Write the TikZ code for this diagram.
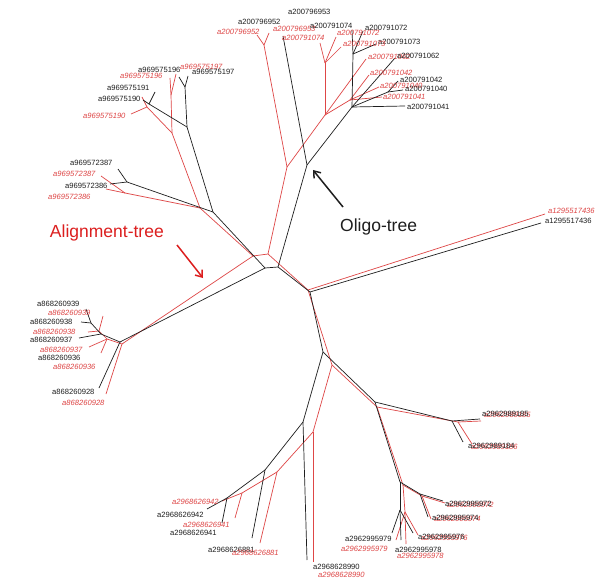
\documentclass[tikz,border=0pt]{standalone}
\usepackage{fontspec}
\setmainfont{Liberation Sans}
\usetikzlibrary{arrows.meta}
\definecolor{treered}{RGB}{222,70,70}
\definecolor{arrred}{RGB}{220,30,30}
\definecolor{treeblk}{RGB}{30,30,30}
\tikzset{
  bl/.style={draw=treeblk,line width=0.7pt},
  rl/.style={draw=treered,line width=0.7pt},
  lab/.style={inner sep=0pt,anchor=west,font=\fontsize{7.6}{8}\selectfont},
  bt/.style={lab,text=treeblk},
  rt/.style={lab,text=treered,font=\fontsize{7.6}{8}\selectfont\itshape},
  bigtext/.style={inner sep=0pt,font=\fontsize{17.5}{19}\selectfont}
}
\begin{document}
\begin{tikzpicture}[x=1pt,y=-1pt]
\useasboundingbox[fill=white] (0,0) rectangle (599,580);
% ---------- black tree coordinates ----------
\coordinate (bc1) at (265,268); \coordinate (bc2) at (278,267);
\coordinate (bL) at (120,342); \coordinate (bL1) at (101,334); \coordinate (bL2) at (91,323);
\coordinate (bLa) at (86,309); \coordinate (bLb) at (81,322); \coordinate (bLc) at (79,338); \coordinate (bLd) at (99,388);
\coordinate (bUL) at (213,212); \coordinate (bA) at (127,182); \coordinate (bAa) at (118,169); \coordinate (bAb) at (110,184);
\coordinate (bB) at (187,127); \coordinate (bB1) at (185,87); \coordinate (bB1a) at (179,77); \coordinate (bB1b) at (188,76);
\coordinate (bB2) at (149,104); \coordinate (bB2a) at (155,92); \coordinate (bB2b) at (143,100);
\coordinate (bT) at (307,165); \coordinate (bTa) at (283,36); \coordinate (bT2) at (352,107); \coordinate (bT3) at (353,54);
\coordinate (bT3a) at (352,30); \coordinate (bT3b) at (363,31); \coordinate (bT3c) at (376,44);
\coordinate (bT2a) at (395,58); \coordinate (bT5) at (388,92); \coordinate (bT5a) at (398,81); \coordinate (bT5b) at (403,90); \coordinate (bT2b) at (405,106);
\coordinate (bR) at (310,292); \coordinate (bRa) at (541,223);
\coordinate (bD) at (323,352); \coordinate (bD1) at (303,422); \coordinate (bD1a) at (307,560);
\coordinate (bD2) at (265,470); \coordinate (bD2a) at (252,538); \coordinate (bD3) at (227,498); \coordinate (bD3a) at (207,509); \coordinate (bD3b) at (222,523);
\coordinate (bE) at (375,402); \coordinate (bE1) at (452,421); \coordinate (bE1a) at (480,419); \coordinate (bE1b) at (463,442);
\coordinate (bE2) at (400,482); \coordinate (bE3) at (420,494); \coordinate (bE3a) at (443,501); \coordinate (bE3b) at (428,517);
\coordinate (bE4) at (400,510); \coordinate (bE4a) at (392,533); \coordinate (bE4b) at (401,540); \coordinate (bE4c) at (413,533);
% ---------- red tree coordinates ----------
\coordinate (rc1) at (253,256); \coordinate (rc2) at (268,254);
\coordinate (rL) at (122,344); \coordinate (rL1) at (107,339); \coordinate (rL2) at (99,331);
\coordinate (rLa) at (103,316); \coordinate (rLb) at (88,332); \coordinate (rLc) at (89,347); \coordinate (rLd) at (101,353); \coordinate (rLe) at (106,394);
\coordinate (rUL) at (200,208); \coordinate (rA) at (125,193); \coordinate (rAa) at (101,176); \coordinate (rAb) at (106,189);
\coordinate (rB) at (172,133); \coordinate (rB1) at (171,95); \coordinate (rB1a) at (170,78); \coordinate (rB1b) at (176,74);
\coordinate (rB2) at (147,107); \coordinate (rB2a) at (131,114); \coordinate (rB2b) at (142,97);
\coordinate (rT) at (287,167); \coordinate (rT1) at (264,45); \coordinate (rT1a) at (257,35); \coordinate (rT1b) at (269,33);
\coordinate (rT2) at (325,115); \coordinate (rT3) at (325,63); \coordinate (rT3a) at (320,43); \coordinate (rT3b) at (336,37); \coordinate (rT3c) at (341,47);
\coordinate (rT2a) at (366,59); \coordinate (rT4) at (350,100); \coordinate (rT4a) at (369,75); \coordinate (rT4b) at (379,87); \coordinate (rT4c) at (382,97);
\coordinate (rR) at (308,290); \coordinate (rRa) at (545,214);
\coordinate (rD) at (332,365); \coordinate (rD1) at (313,432); \coordinate (rD1a) at (313,562);
\coordinate (rD2) at (277,472); \coordinate (rD2a) at (260,543); \coordinate (rD3) at (242,493); \coordinate (rD3a) at (222,501); \coordinate (rD3b) at (235,518);
\coordinate (rE) at (377,407); \coordinate (rE1) at (458,422); \coordinate (rE1a) at (481,421); \coordinate (rE1b) at (472,444);
\coordinate (rE2) at (403,485); \coordinate (rE3) at (422,496); \coordinate (rE3a) at (445,503); \coordinate (rE3b) at (431,519);
\coordinate (rE4) at (405,512); \coordinate (rE4a) at (396,540); \coordinate (rE4b) at (406,544); \coordinate (rE4c) at (418,535);
% ---------- red edges ----------
\foreach \a/\b in {rc1/rc2,rc1/rL,rc1/rUL,rc2/rT,rc2/rR,
  rL/rL1,rL1/rL2,rL2/rLa,rL2/rLb,rL1/rLc,rL1/rLd,rL/rLe,
  rUL/rA,rA/rAa,rA/rAb,rUL/rB,rB/rB1,rB1/rB1a,rB1/rB1b,rB/rB2,rB2/rB2a,rB2/rB2b,
  rT/rT1,rT1/rT1a,rT1/rT1b,rT/rT2,rT2/rT3,rT3/rT3a,rT3/rT3b,rT3/rT3c,rT2/rT2a,rT2/rT4,rT4/rT4a,rT4/rT4b,rT4/rT4c,
  rR/rRa,rR/rD,rD/rD1,rD1/rD1a,rD1/rD2,rD2/rD2a,rD2/rD3,rD3/rD3a,rD3/rD3b,
  rD/rE,rE/rE1,rE1/rE1a,rE1/rE1b,rE/rE2,rE2/rE3,rE3/rE3a,rE3/rE3b,rE2/rE4,rE4/rE4a,rE4/rE4b,rE4/rE4c}
  \draw[rl] (\a) -- (\b);
% ---------- black edges ----------
\foreach \a/\b in {bc1/bc2,bc1/bL,bc1/bUL,bc2/bT,bc2/bR,
  bL/bL1,bL1/bL2,bL2/bLa,bL2/bLb,bL1/bLc,bL/bLd,
  bUL/bA,bA/bAa,bA/bAb,bUL/bB,bB/bB1,bB1/bB1a,bB1/bB1b,bB/bB2,bB2/bB2a,bB2/bB2b,
  bT/bTa,bT/bT2,bT2/bT3,bT3/bT3a,bT3/bT3b,bT3/bT3c,bT2/bT2a,bT2/bT5,bT5/bT5a,bT5/bT5b,bT2/bT2b,
  bR/bRa,bR/bD,bD/bD1,bD1/bD1a,bD1/bD2,bD2/bD2a,bD2/bD3,bD3/bD3a,bD3/bD3b,
  bD/bE,bE/bE1,bE1/bE1a,bE1/bE1b,bE/bE2,bE2/bE3,bE3/bE3a,bE3/bE3b,bE2/bE4,bE4/bE4a,bE4/bE4b,bE4/bE4c}
  \draw[bl] (\a) -- (\b);
% ---------- labels: top ----------
\node[bt] (t1) at (288,12) {a200796953};
\node[bt] (t2) at (238,22) {a200796952};
\node[rt] (t3) at (217,32) {a200796952};
\node[rt] (t4) at (273,29) {a200796953};
\node[bt] (t5) at (310,26) {a200791074};
\node[rt] (t6) at (282,38) {a200791074};
\node[rt] (t7) at (337,33) {a200791072};
\node[bt] (t8) at (365,28) {a200791072};
\node[bt] (t9) at (378,42) {a200791073};
\node[rt] (t10) at (343,44) {a200791073};
\node[rt] (t11) at (368,57) {a200791062};
\node[bt] (t12) at (397,56) {a200791062};
\node[rt] (t13) at (370,73) {a200791042};
\node[bt] (t14) at (400,80) {a200791042};
\node[rt] (t15) at (380,86) {a200791040};
\node[bt] (t16) at (405,89) {a200791040};
\node[rt] (t17) at (383,97) {a200791041};
\node[bt] (t18) at (407,107) {a200791041};
% ---------- labels: upper left ----------
\node[bt] (u1) at (138,70) {a969575196};
\node[rt] (u2) at (180,67) {a969575197};
\node[bt] (u3) at (192,72) {a969575197};
\node[rt] (u4) at (120,76) {a969575196};
\node[bt] (u5) at (107,88) {a969575191};
\node[bt] (u6) at (98,99) {a969575190};
\node[rt] (u7) at (83,116) {a969575190};
\node[bt] (u8) at (70,163) {a969572387};
\node[rt] (u9) at (53,174) {a969572387};
\node[bt] (u10) at (65,186) {a969572386};
\node[rt] (u11) at (48,197) {a969572386};
% ---------- labels: left ----------
\node[bt] (l1) at (37,304) {a868260939};
\node[rt] (l2) at (48,313) {a868260939};
\node[bt] (l3) at (30,322) {a868260938};
\node[rt] (l4) at (33,332) {a868260938};
\node[bt] (l5) at (30,340) {a868260937};
\node[rt] (l6) at (40,350) {a868260937};
\node[bt] (l7) at (38,358) {a868260936};
\node[rt] (l8) at (53,367) {a868260936};
\node[bt] (l9) at (52,392) {a868260928};
\node[rt] (l10) at (62,403) {a868260928};
% ---------- labels: right ----------
\node[rt] (g1) at (548,211) {a1295517436};
\node[bt] (g2) at (545,221) {a1295517436};
% ---------- labels: bottom right ----------
\node[rt] (h1) at (484,415) {a2962989185};
\node[bt] (h2) at (482,414) {a2962989185};
\node[rt] (h3) at (471,447) {a2962989186};
\node[bt] (h4) at (468,446) {a2962989184};
\node[rt] (h5) at (447,505) {a2962995972};
\node[bt] (h6) at (445,504) {a2962995972};
\node[rt] (h7) at (434,519) {a2962995974};
\node[bt] (h8) at (432,518) {a2962995974};
\node[rt] (h9) at (421,538) {a2962995976};
\node[bt] (h10) at (418,537) {a2962995976};
\node[bt] (h11) at (345,539) {a2962995979};
\node[rt] (h12) at (341,549) {a2962995979};
\node[bt] (h13) at (395,550) {a2962995978};
\node[rt] (h14) at (397,556) {a2962995978};
% ---------- labels: bottom ----------
\node[rt] (k1) at (172,502) {a2968626942};
\node[bt] (k2) at (157,515) {a2968626942};
\node[rt] (k3) at (183,525) {a2968626941};
\node[bt] (k4) at (170,533) {a2968626941};
\node[bt] (k5) at (208,550) {a2968626881};
\node[rt] (k6) at (232,553) {a2968626881};
\node[bt] (k7) at (313,567) {a2968628990};
\node[rt] (k8) at (318,575) {a2968628990};
% ---------- annotations ----------
\node[bigtext,anchor=west,text=treeblk] (oligo) at (340,227) {Oligo-tree};
\node[bigtext,anchor=east,text=arrred] (align) at (164,233) {Alignment-tree};
\coordinate (oa) at (343,207); \coordinate (ob) at (313,170);
\coordinate (aa) at (177,245); \coordinate (ab) at (203,278);
\draw[line width=1.5pt,treeblk,-{Straight Barb[length=6pt,width=9pt]}] (oa) -- (ob);
\draw[line width=1.5pt,arrred,-{Straight Barb[length=6pt,width=9pt]}] (aa) -- (ab);
\end{tikzpicture}
\end{document}
